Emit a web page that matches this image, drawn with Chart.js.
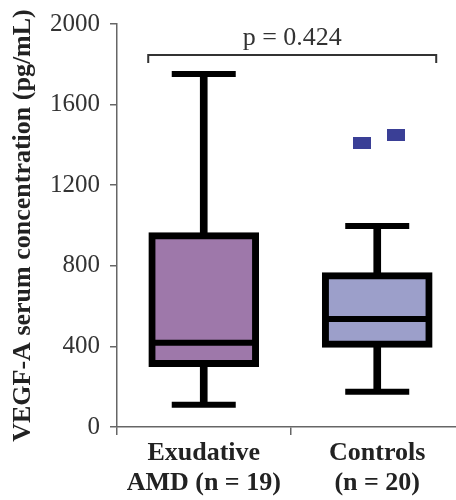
<!DOCTYPE html>
<html>
<head>
<meta charset="utf-8">
<script src="https://cdn.jsdelivr.net/npm/chart.js@4/dist/chart.umd.min.js"></script>
<style>
  html, body { margin: 0; padding: 0; background: #fff; }
  #wrap { width: 456px; height: 500px; position: relative; }
</style>
</head>
<body>
<div id="wrap"><canvas id="c"></canvas></div>
<script>
// ---- data ----
const categories = [['Exudative', 'AMD (n = 19)'], ['Controls', '(n = 20)']];
const categoryPos = [0, 1];
const whiskerMin = [110, 175];
const q1 = [300, 395];
const median = [418, 536];
const q3 = [965, 766];
const whiskerMax = [1752, 998];
const outlierX = [0.91, 1.108];      // jittered positions around the Controls box
const outlierY = [1409, 1449];
const yTicks = [0, 400, 800, 1200, 1600, 2000];
const pText = 'p = 0.424';
const bracketX = [-0.32, 1.34];
const bracketY = [1806, 1846];

const boxColors = ['#9e78aa', '#9c9fca'];
const SERIF = '"Liberation Serif", "Times New Roman", serif';

// outlier marker: small dark-blue rectangle
const outMark = document.createElement('canvas');
outMark.width = 18; outMark.height = 12;
{ const g = outMark.getContext('2d'); g.fillStyle = '#3a3f96'; g.fillRect(0, 0, 18, 12); }

const pTextPlugin = {
  id: 'pText',
  afterDatasetsDraw(chart) {
    const { ctx, scales: { x, y } } = chart;
    ctx.save();
    ctx.font = '26px ' + SERIF;
    ctx.fillStyle = '#333';
    ctx.textAlign = 'center';
    ctx.textBaseline = 'alphabetic';
    ctx.fillText(pText, x.getPixelForValue((bracketX[0] + bracketX[1]) / 2), y.getPixelForValue(1895));
    ctx.restore();
  }
};

new Chart(document.getElementById('c'), {
  type: 'bar',
  data: {
    datasets: [
      {
        type: 'bar',
        data: categoryPos.map((p, i) => ({ x: p, y: [whiskerMin[i], whiskerMax[i]] })),
        backgroundColor: '#000',
        barThickness: 7,
        grouped: false,
        borderSkipped: false,
        order: 3
      },
      {
        type: 'bar',
        data: categoryPos.map((p, i) => ({ x: p, y: [q1[i], q3[i]] })),
        backgroundColor: boxColors,
        borderColor: '#000',
        borderWidth: 7,
        borderSkipped: false,
        barThickness: 110,
        grouped: false,
        order: 2
      },
      {
        type: 'line',
        showLine: false,
        data: categoryPos.flatMap((p, i) => [{ x: p, y: whiskerMin[i] }, { x: p, y: whiskerMax[i] }]),
        pointStyle: 'line',
        pointRadius: 32,
        pointBorderWidth: 6,
        pointBorderColor: '#000',
        order: 1
      },
      {
        type: 'line',
        showLine: false,
        data: categoryPos.map((p, i) => ({ x: p, y: median[i] })),
        pointStyle: 'line',
        pointRadius: 53,
        pointBorderWidth: 6,
        pointBorderColor: '#000',
        order: 1
      },
      {
        type: 'line',
        showLine: false,
        data: outlierX.map((xv, i) => ({ x: xv, y: outlierY[i] })),
        pointStyle: outMark,
        pointRadius: 9,
        order: 0
      },
      {
        type: 'line',
        data: [
          { x: bracketX[0], y: bracketY[0] }, { x: bracketX[0], y: bracketY[1] },
          { x: bracketX[1], y: bracketY[1] }, { x: bracketX[1], y: bracketY[0] }
        ],
        borderColor: '#333',
        borderWidth: 2,
        pointRadius: 0,
        tension: 0,
        order: 0
      }
    ]
  },
  options: {
    responsive: true,
    maintainAspectRatio: false,
    animation: false,
    layout: { autoPadding: false, padding: { top: 24, left: 0, right: 0, bottom: 0 } },
    plugins: { legend: { display: false }, tooltip: { enabled: false } },
    scales: {
      x: {
        type: 'linear',
        offset: false,
        min: -0.5,
        max: 1.454,
        afterBuildTicks(scale) { scale.ticks = categoryPos.map(v => ({ value: v })); },
        afterFit(scale) { scale.height = 73; scale.paddingLeft = 0; scale.paddingRight = 0; },
        grid: { display: true, drawOnChartArea: false, drawTicks: true, tickLength: 8, color: '#666', lineWidth: 1.5 },
        border: { display: true, color: '#666', width: 1.5 },
        ticks: {
          autoSkip: false,
          maxRotation: 0,
          padding: 3,
          color: '#222',
          font: { family: SERIF, size: 26, weight: 'bold', lineHeight: 1.15 },
          callback(v) { const i = categoryPos.indexOf(v); return i >= 0 ? categories[i] : ''; }
        }
      },
      y: {
        type: 'linear',
        min: 0,
        max: 2000,
        afterBuildTicks(scale) { scale.ticks = yTicks.map(v => ({ value: v })); },
        afterFit(scale) { scale.width = 117; scale.paddingTop = 0; scale.paddingBottom = 0; },
        grid: { display: true, drawOnChartArea: false, drawTicks: true, tickLength: 7, color: '#666', lineWidth: 1.5 },
        border: { display: true, color: '#666', width: 1.5 },
        ticks: {
          padding: 10,
          color: '#333',
          font: { family: SERIF, size: 25 },
          callback(v) { return String(v); }
        },
        title: {
          display: true,
          text: 'VEGF-A serum concentration (pg/mL)',
          color: '#222',
          padding: { top: 8, bottom: 0 },
          font: { family: SERIF, size: 26, weight: 'bold' }
        }
      }
    }
  },
  plugins: [pTextPlugin]
});
</script>
</body>
</html>
